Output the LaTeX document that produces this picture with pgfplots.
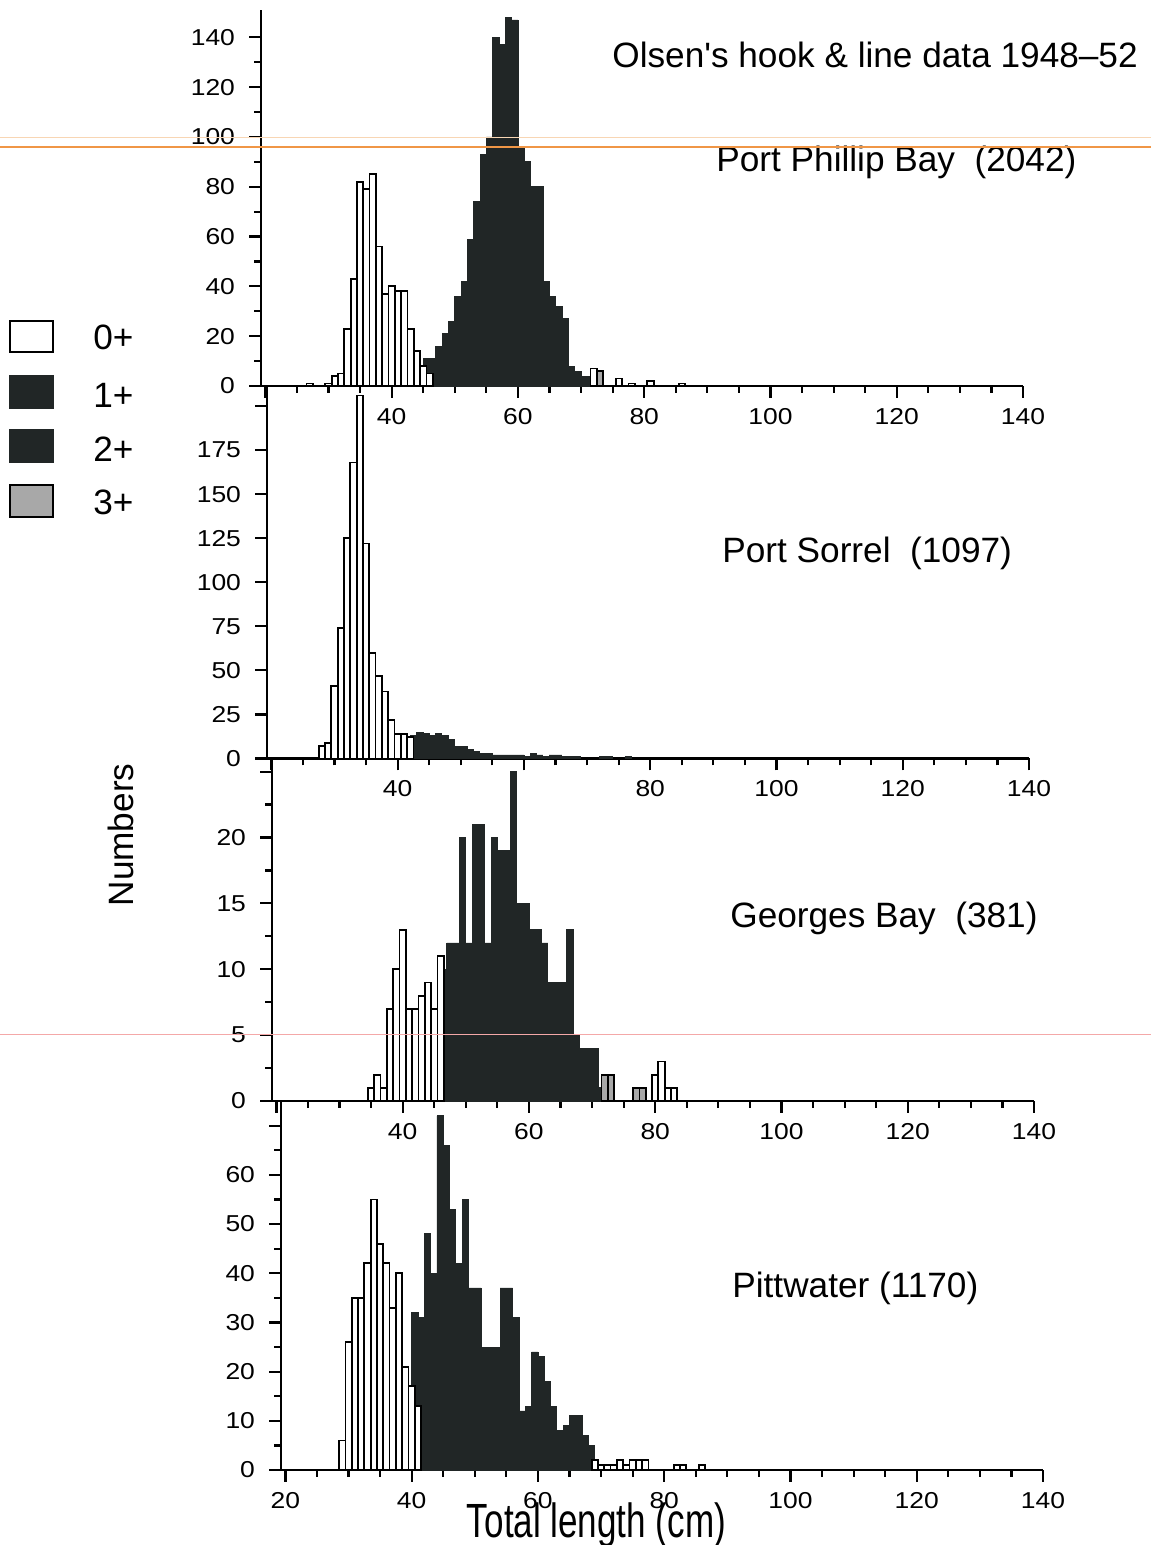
\documentclass[border=0pt]{standalone}
\usepackage{fontspec}
\setmainfont{Liberation Sans}
\newfontfamily\tickfont{Liberation Sans}[FakeStretch=1.15]
\usepackage{graphicx}
\usepackage{pgfplots}
\pgfplotsset{compat=1.18}

\definecolor{ink}{RGB}{33,38,38}
\definecolor{stip}{RGB}{168,168,168}
\definecolor{scanorange}{RGB}{240,150,70}
\definecolor{scanfaint}{RGB}{248,214,180}
\definecolor{scanpink}{RGB}{244,168,168}

\newcommand\labfont{\fontsize{17.6}{20}\selectfont}

\pgfplotsset{
  histo/.style={
    scale only axis, width=381pt,
    xmin=19.3, xmax=140, ymin=0,
    axis lines=left,
    axis line style={-, line width=1.4pt, black},
    tick align=outside,
    tick style={line width=1.1pt, black},
    major tick length=6pt, minor tick length=3.5pt,
    xtick={20,40,...,140}, minor xtick={25,30,...,135},
    ybar, bar width=1,
    ticklabel style={font=\tickfont\fontsize{11.5}{14}\selectfont},
    yticklabel style={xshift=-3.5pt},
    xticklabel style={yshift=-1.5pt},
    /pgf/number format/assume math mode=true,
    enlargelimits=false, clip=false,
  },
  age0/.style={bar shift=0pt, fill=white, draw=black, line width=0.9pt},
  age1/.style={bar shift=0pt, fill=ink, draw=ink, line width=0.4pt},
  age3/.style={bar shift=0pt, fill=stip, draw=black, line width=0.9pt},
}

\begin{document}
\begin{tikzpicture}
\useasboundingbox (0,0) rectangle (575.5pt,772.5pt);

% ---------------- Port Phillip Bay ----------------
\begin{axis}[histo, at={(130.5pt,579.5pt)}, anchor=south west,
  height=188pt, ymax=151,
  ytick={0,20,...,140}, minor ytick={10,30,...,130},
  xticklabels={,40,60,80,100,120,140}]
\addplot[age1] coordinates {
 (45.5,11)(46.5,11)(47.5,16)(48.5,21)(49.5,26)(50.5,36)(51.5,42)(52.5,59)
 (53.5,74)(54.5,93)(55.5,100)(56.5,140)(57.5,137)(58.5,148)(59.5,147)
 (60.5,96)(61.5,90)(62.5,80)(63.5,80)(64.5,42)(65.5,36)(66.5,32)(67.5,27)
 (68.5,8)(69.5,6)(70.5,4)(71.5,4)};
\addplot[age0] coordinates {
 (27,1)(30,1)(31,4)(32,5)(33,23)(34,43)(35,82)(36,79)(37,85)(38,56)(39,37)
 (40,40)(41,38)(42,38)(43,23)(44,14)(45,8)(46,5)(72,7)(76,3)(78,1)(81,2)(86,1)};
\addplot[age3] coordinates {(73,6)};
\end{axis}

% ---------------- Port Sorrel ----------------
\begin{axis}[histo, at={(133.5pt,393.25pt)}, anchor=south west,
  height=186.25pt, ymax=211.4,
  ytick={0,25,...,200}, yticklabels={0,25,50,75,100,125,150,175,{}},
  xticklabels={,40,,80,100,120,140}]
\addplot[age1] coordinates {
 (41.5,12)(42.5,13)(43.5,15)(44.5,14)(45.5,13)(46.5,14)(47.5,13)(48.5,11)
 (49.5,7)(50.5,7)(51.5,5)(52.5,4)(53.5,3)(54.5,3)(55.5,2)(56.5,2)(57.5,2)
 (58.5,2)(59.5,2)(60.5,1)(61.5,3)(62.5,2)(63.5,1)(64.5,2)(65.5,2)(66.5,1)
 (67.5,1)(68.5,1)(72.5,1)(73.5,1)(76.5,1)};
\addplot[age0] coordinates {
 (28,7)(29,9)(30,41)(31,74)(32,125)(33,168)(34,206)(35,122)(36,60)(37,47)
 (38,38)(39,22)(40,14)(41,14)(42,12)};
\end{axis}

% ---------------- Georges Bay ----------------
\begin{axis}[histo, at={(136pt,222pt)}, anchor=south west,
  height=171.25pt, ymax=26,
  ytick={0,5,...,25}, yticklabels={0,5,10,15,20,{}},
  minor ytick={2.5,7.5,...,22.5},
  xticklabels={,40,60,80,100,120,140}]
\addplot[age1] coordinates {
 (46.5,10)(47.5,12)(48.5,12)(49.5,20)(50.5,12)(51.5,21)(52.5,21)(53.5,12)
 (54.5,20)(55.5,19)(56.5,19)(57.5,25)(58.5,15)(59.5,15)(60.5,13)(61.5,13)
 (62.5,12)(63.5,9)(64.5,9)(65.5,9)(66.5,13)(67.5,5)(68.5,4)(69.5,4)(70.5,4)
 (71.5,1)};
\addplot[age0] coordinates {
 (35,1)(36,2)(37,1)(38,7)(39,10)(40,13)(41,7)(42,7)(43,8)(44,9)(45,7)(46,11)
 (80,2)(81,3)(82,1)(83,1)};
\addplot[age3] coordinates {(72,2)(73,2)(77,1)(78,1)};
\end{axis}

% ---------------- Pittwater ----------------
\begin{axis}[histo, at={(140.5pt,37.5pt)}, anchor=south west,
  height=184.5pt, ymax=75,
  ytick={0,10,...,70}, yticklabels={0,10,20,30,40,50,60,{}},
  minor ytick={5,15,...,65},
  xticklabels={20,40,60,80,100,120,140},
  xlabel={\fontsize{24}{28}\selectfont\scalebox{0.73}[1]{Total length (cm)}},
  xlabel style={at={(axis description cs:0.414,0)}, anchor=base, yshift=-34pt}]
\addplot[age1] coordinates {
 (40.5,32)(41.5,31)(42.5,48)(43.5,40)(44.5,72)(45.5,66)(46.5,53)(47.5,42)
 (48.5,55)(49.5,37)(50.5,37)(51.5,25)(52.5,25)(53.5,25)(54.5,37)(55.5,37)
 (56.5,31)(57.5,12)(58.5,13)(59.5,24)(60.5,23)(61.5,18)(62.5,13)(63.5,8)
 (64.5,9)(65.5,11)(66.5,11)(67.5,7)(68.5,5)};
\addplot[age0] coordinates {
 (29,6)(30,26)(31,35)(32,35)(33,42)(34,55)(35,46)(36,42)(37,33)(38,40)(39,21)
 (40,17)(41,13)(69,2)(70,1)(71,1)(72,1)(73,2)(74,1)(75,2)(76,2)(77,2)
 (82,1)(83,1)(86,1)};
\end{axis}

% ---------------- titles and labels ----------------
\node[anchor=base west, inner sep=0pt, font=\labfont] at (306pt,738.5pt) {Olsen\textquotesingle s hook \& line data 1948–52};
\node[anchor=base west, inner sep=0pt, font=\labfont] at (358pt,686.5pt) {Port Phillip Bay\ \ (2042)};
\node[anchor=base west, inner sep=0pt, font=\labfont] at (361pt,491pt) {Port Sorrel\ \ (1097)};
\node[anchor=base west, inner sep=0pt, font=\labfont] at (365pt,308.5pt) {Georges Bay\ \ (381)};
\node[anchor=base west, inner sep=0pt, font=\labfont] at (366pt,123.5pt) {Pittwater (1170)};
\node[rotate=90, inner sep=0pt, font=\labfont] at (60.5pt,355pt) {Numbers};

% ---------------- age-class key ----------------
\draw[line width=1.2pt, fill=white] (5pt,596.5pt) rectangle (26.5pt,612pt);
\draw[line width=1.2pt, fill=ink, draw=ink] (5pt,568.5pt) rectangle (26.5pt,584.5pt);
\draw[line width=1.2pt, fill=ink, draw=ink] (5pt,541.5pt) rectangle (26.5pt,557.5pt);
\draw[line width=1.2pt, fill=stip] (5pt,514pt) rectangle (26.5pt,530pt);
\node[anchor=base west, inner sep=0pt, font=\labfont] at (46.5pt,597.5pt) {0+};
\node[anchor=base west, inner sep=0pt, font=\labfont] at (46.5pt,568.5pt) {1+};
\node[anchor=base west, inner sep=0pt, font=\labfont] at (46.5pt,541.5pt) {2+};
\node[anchor=base west, inner sep=0pt, font=\labfont] at (46.5pt,515pt) {3+};

% ---------------- ruled guide lines on the sheet ----------------
\draw[scanfaint, line width=0.5pt] (0pt,703.5pt) -- (575.5pt,703.5pt);
\draw[scanorange, line width=0.6pt] (0pt,699pt) -- (575.5pt,699pt);
\draw[scanpink, line width=0.5pt] (0pt,255pt) -- (575.5pt,255pt);
\end{tikzpicture}
\end{document}
